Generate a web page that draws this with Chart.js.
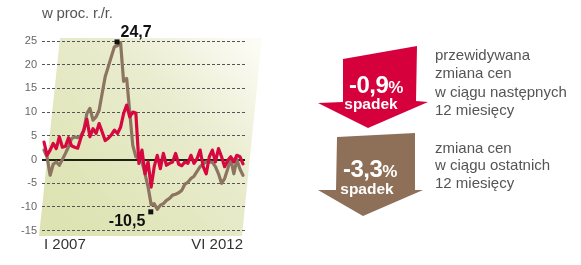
<!DOCTYPE html>
<html>
<head>
<meta charset="utf-8">
<script src="https://cdn.jsdelivr.net/npm/chart.js@4/dist/chart.umd.min.js"></script>
<style>
  html, body { margin: 0; padding: 0; background: #ffffff; }
  #wrap { position: relative; width: 581px; height: 265px; overflow: hidden; font-family: "Liberation Sans", Arial, sans-serif; }
  #c { position: absolute; left: 0; top: 0; }
  #unit { position: absolute; left: 42px; top: 4px; font-size: 15px; color: #555; letter-spacing: -0.2px; }
  #panel { position: absolute; left: 0; top: 0; }
</style>
</head>
<body>
<div id="wrap">
  <canvas id="c" width="581" height="265"></canvas>
  <div id="unit">w proc. r./r.</div>
  <svg id="panel" width="581" height="265" xmlns="http://www.w3.org/2000/svg" font-family="Liberation Sans, Arial, sans-serif">
    <polygon points="343,59 417,46 416,101 428,102 368,128 318,103 343,102" fill="#d5003c"/>
    <text x="376" y="93" fill="#fff" font-weight="bold" font-size="24" text-anchor="middle" letter-spacing="-0.5" id="t1"></text>
    <text x="371" y="109" fill="#fff" font-weight="bold" font-size="15.5" text-anchor="middle">spadek</text>
    <polygon points="337,137 415,133 415,190 423,190 363,216 318,190 336,190" fill="#8e6f58"/>
    <text x="370" y="177" fill="#fff" font-weight="bold" font-size="24" text-anchor="middle" letter-spacing="-0.5" id="t2"></text>
    <text x="367" y="194" fill="#fff" font-weight="bold" font-size="15.5" text-anchor="middle">spadek</text>
    <g fill="#555" font-size="15">
      <text x="435" y="60">przewidywana</text>
      <text x="435" y="78">zmiana cen</text>
      <text x="435" y="97">w ciągu następnych</text>
      <text x="435" y="115">12 miesięcy</text>
      <text x="435" y="153">zmiana cen</text>
      <text x="435" y="170">w ciągu ostatnich</text>
      <text x="435" y="188">12 miesięcy</text>
    </g>
  </svg>
</div>
<script>
// ---- data ----
const months = Array.from({length: 66}, (_, i) => i); // I 2007 ... VI 2012 (monthly index)
const xTickPos = [0, 65];
const xTickLabels = ['I 2007', 'VI 2012'];
const yTicks = [-15, -10, -5, 0, 5, 10, 15, 20, 25];

// expected price change (red)
const expectedChange = [
  3.7, 0.9, 2.0, 3.4, 2.3, 4.8, 2.6, 2.8, 4.6, 2.9,
  2.6, 2.4, 4.5, 6.2, 8.5, 4.8, 6.5, 5.5, 7.6, 5.8,
  4.0, 4.5, 5.2, 6.2, 5.5, 6.8, 9.7, 11.5, 9.0, 10.0,
  9.8, -0.8, 2.0, -3.0, -0.5, -5.8, -1.5, 0.9, -1.9, 1.3,
  -1.2, -0.8, -0.5, 1.3, -1.0, -1.3, -0.5, -0.8, 0.9, -0.8,
  0.2, 2.0, -1.5, -3.0, 0.6, 2.0, -0.5, 2.3, 0.6, -1.5,
  -0.2, 0.6, -0.5, 0.9, 0.6, -0.9
];
// actual price change over last 12 months (brown)
const actualChange = [
  2.0, 0.5, -3.3, -1.0, -0.5, -1.2, 0.0, 1.3, 2.7, 4.4,
  4.8, 4.6, 5.0, 6.2, 9.7, 10.8, 8.3, 9.0, 10.4, 14.0,
  17.5, 19.6, 21.7, 23.8, 24.0, 24.7, 16.5, 17.1, 10.0, 3.0,
  0.6, 0.2, -0.5, -3.0, -5.8, -9.5, -9.3, -10.5, -9.6, -9.3,
  -8.6, -8.2, -7.5, -7.3, -7.0, -6.5, -5.2, -4.8, -4.0, -3.5,
  -2.5, -1.5, -0.9, -0.5, -0.5, -0.6, -1.5, -3.0, -5.0, -4.0,
  -2.0, 0.2, -3.0, 0.0, -2.0, -3.3
];

const fmt = v => v.toFixed(1).replace('.', ',');
const last = a => a[a.length - 1];
function setPct(id, v) {
  const el = document.getElementById(id);
  el.innerHTML = '';
  el.appendChild(document.createTextNode(fmt(v)));
  const ts = document.createElementNS('http://www.w3.org/2000/svg', 'tspan');
  ts.setAttribute('font-size', '17');
  ts.textContent = '%';
  el.appendChild(ts);
}
setPct('t1', last(expectedChange));
setPct('t2', last(actualChange));

const bgPlugin = {
  id: 'bg',
  beforeDraw(chart) {
    const ctx = chart.ctx;
    ctx.save();
    const g = ctx.createLinearGradient(250, 38, 70, 220);
    g.addColorStop(0, '#fcfcf6');
    g.addColorStop(0.4, '#e9ecce');
    g.addColorStop(1, '#dde3b2');
    ctx.fillStyle = g;
    ctx.beginPath();
    ctx.moveTo(60, 38);
    ctx.lineTo(262, 38);
    ctx.lineTo(242, 236);
    ctx.lineTo(39, 236);
    ctx.closePath();
    ctx.fill();
    ctx.restore();
  }
};

const markPlugin = {
  id: 'marks',
  afterDatasetsDraw(chart) {
    const ctx = chart.ctx;
    const xs = chart.scales.x, ys = chart.scales.y;
    const data = actualChange;
    let iMax = 0, iMin = 0;
    data.forEach((v, i) => { if (v > data[iMax]) iMax = i; if (v < data[iMin]) iMin = i; });
    ctx.save();
    ctx.fillStyle = '#111';
    ctx.font = 'bold 16px "Liberation Sans", Arial, sans-serif';
    // max
    let px = xs.getPixelForValue(months[iMax]), py = ys.getPixelForValue(data[iMax]);
    ctx.fillRect(px - 6, py - 3, 5, 5);
    ctx.textAlign = 'left'; ctx.textBaseline = 'alphabetic';
    ctx.fillText(fmt(data[iMax]), px, py - 5);
    // min
    px = xs.getPixelForValue(months[iMin]); py = ys.getPixelForValue(data[iMin]);
    ctx.fillRect(px - 9, py + 0, 5, 5);
    ctx.textAlign = 'right'; ctx.textBaseline = 'top';
    ctx.fillText(fmt(data[iMin]), px - 12, py + 4);
    ctx.restore();
  }
};

new Chart(document.getElementById('c'), {
  type: 'line',
  data: {
    labels: months,
    datasets: [
      { label: 'przewidywana zmiana cen', data: expectedChange, borderColor: '#d6083f', borderWidth: 3.2, pointRadius: 0, tension: 0, borderJoinStyle: 'round', borderCapStyle: 'round' },
      { label: 'zmiana cen w ciągu ostatnich 12 miesięcy', data: actualChange, borderColor: '#8c7461', borderWidth: 3.2, pointRadius: 0, tension: 0, borderJoinStyle: 'round', borderCapStyle: 'round' }
    ]
  },
  options: {
    responsive: false,
    animation: false,
    events: [],
    layout: { padding: { left: 0, right: 336, top: 41, bottom: 0 } },
    plugins: { legend: { display: false }, tooltip: { enabled: false } },
    scales: {
      x: {
        type: 'linear',
        min: -0.66, max: 65.66,
        afterBuildTicks: s => { s.ticks = xTickPos.map(v => ({ value: v })); },
        afterFit: s => { s.height = 34.3; },
        grid: { display: false, drawTicks: false },
        border: { display: false },
        ticks: {
          align: 'inner', padding: 5, maxRotation: 0, autoSkip: false,
          color: '#333',
          font: { family: '"Liberation Sans", Arial, sans-serif', size: 15 },
          callback: (v) => xTickLabels[xTickPos.indexOf(v)]
        }
      },
      y: {
        min: -15, max: 25,
        afterBuildTicks: s => { s.ticks = yTicks.map(v => ({ value: v })); },
        afterFit: s => { s.width = 42; },
        grid: {
          drawTicks: false,
          color: ctx => ctx.tick && ctx.tick.value === 0 ? '#1a2410' : '#555',
          lineWidth: ctx => ctx.tick && ctx.tick.value === 0 ? 2 : 1
        },
        border: { display: false, dash: ctx => ctx.tick && ctx.tick.value === 0 ? [] : [3, 2] },
        ticks: {
          padding: 5, color: '#666',
          font: { family: '"Liberation Sans", Arial, sans-serif', size: 11 }
        }
      }
    }
  },
  plugins: [bgPlugin, markPlugin]
});
</script>
</body>
</html>
